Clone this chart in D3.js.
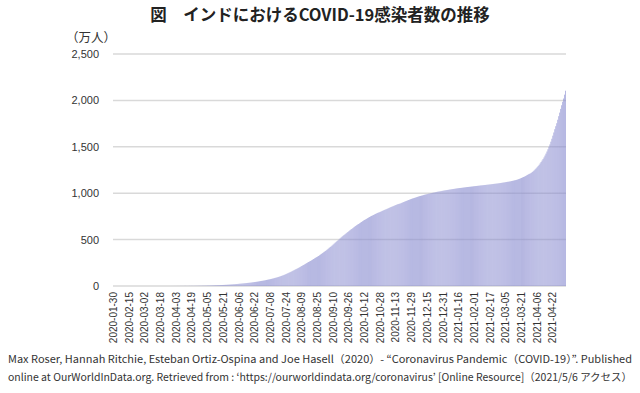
<!DOCTYPE html>
<html>
<head>
<meta charset="utf-8">
<script src="https://cdn.jsdelivr.net/npm/d3@7"></script>
<style>
  body { margin: 0; background: #fff; }
  svg { display: block; font-family: "Noto Sans", "Noto Sans CJK JP", sans-serif; }
  .tick text { fill: #333; }
</style>
</head>
<body>
<svg id="chart"></svg>
<script>
// cumulative confirmed cases in India, unit: 万人, one value per day from 2020-01-30
const cases2020Jan = [0, 0];
const cases2020Feb = [0,0,0,0,0,0,0,0,0,0, 0,0,0,0,0,0,0,0,0,0, 0,0,0,0,0,0,0,0,0];
const cases2020Mar = [0,0,0,0,0,0,0,0,0,0.01, 0.01,0.01,0.01,0.01,0.01,0.01,0.02,0.02,0.02,0.03, 0.04,0.05,0.05,0.07,0.07,0.09,0.10,0.10,0.13,0.14, 0.20];
const cases2020Apr = [0.22,0.25,0.31,0.36,0.42,0.47,0.54,0.59,0.67,0.76, 0.84,0.91,0.99,1.08,1.19,1.27,1.38,1.48,1.58,1.73, 1.86,2.01,2.15,2.31,2.49,2.64,2.79,2.95,3.13,3.40];
const cases2020May = [3.55,3.78,4.03,4.27,4.64,4.94,5.29,5.62,5.97,6.27, 6.70,7.07,7.44,7.83,8.19,8.60,9.09,9.60,10.1,10.6, 11.2,11.8,12.5,13.1,13.9,14.5,15.1,15.8,16.6,17.3, 18.2];
const cases2020Jun = [19.0,19.8,20.7,21.6,22.6,23.6,24.7,25.6,26.6,27.6, 28.7,29.8,30.9,32.1,33.3,34.3,35.4,36.7,38.1,39.6, 41.1,42.6,44.1,45.6,47.3,49.1,50.9,52.9,54.9,56.6];
const cases2020Jul = [58.6,60.5,62.6,64.9,67.3,69.7,71.9,74.2,76.7,79.4, 82.0,84.9,87.9,90.7,93.7,96.8,100.4,103.9,107.8,111.8, 115.5,119.3,123.9,128.8,133.7,138.5,143.6,148.3,153.1,158.4, 164.0];
const cases2020Aug = [169.5,175.1,180.4,185.6,190.8,196.5,202.7,208.8,215.3,221.5, 227.0,233.0,239.7,246.1,252.6,258.9,264.7,270.2,276.7,283.6, 290.5,297.6,304.4,310.6,316.7,323.4,331.0,338.8,346.3,354.2, 362.1];
const cases2020Sep = [369.2,377.0,385.3,393.6,402.3,411.3,420.4,427.9,437.1,446.6, 456.2,465.9,475.4,484.6,493.0,502.0,511.8,521.4,530.8,540.0, 548.7,556.2,564.6,573.2,581.8,590.3,599.3,607.5,614.5,622.5];
const cases2020Oct = [631.3,639.5,647.3,654.9,662.3,668.5,675.7,683.2,690.6,697.9, 705.4,712.0,717.6,723.9,730.8,737.0,743.2,749.5,755.0,759.7, 765.1,770.6,776.1,781.4,786.4,790.9,794.6,798.8,803.6,808.9, 813.7];
const cases2020Nov = [818.4,822.9,826.7,831.4,836.4,841.3,846.2,850.7,855.3,859.1, 863.6,868.3,872.9,877.4,881.4,884.5,887.4,891.0,895.9,900.5, 905.0,909.5,913.9,917.7,922.2,926.7,930.9,935.2,939.2,943.2];
const cases2020Dec = [946.3,949.9,953.4,957.1,960.8,964.4,967.7,970.3,973.6,976.7, 979.7,982.7,985.7,988.4,990.7,993.3,995.6,997.9,1000.5,1003.1, 1005.6,1007.5,1009.9,1012.4,1014.7,1016.9,1018.7,1020.2,1022.4,1024.5, 1026.7];
const cases2021Jan = [1028.6,1030.5,1032.3,1034.0,1035.6,1037.4,1039.5,1041.3,1043.1,1044.7, 1046.0,1047.9,1049.6,1051.3,1052.8,1054.3,1055.7,1056.7,1058.1,1059.6, 1061.0,1062.5,1063.9,1065.4,1066.6,1067.7,1069.0,1070.2,1071.6,1073.0, 1074.6];
const cases2021Feb = [1075.8,1076.8,1077.7,1079.0,1080.2,1081.6,1083.0,1084.4,1085.3,1086.6, 1087.7,1088.6,1089.9,1091.3,1092.5,1093.7,1095.0,1096.1,1097.7,1099.1, 1100.5,1101.6,1102.8,1103.9,1105.6,1107.0,1108.6,1110.1];
const cases2021Mar = [1112.0,1113.9,1115.6,1117.3,1119.2,1121.0,1122.9,1124.4,1126.3,1128.5, 1131.0,1133.3,1135.9,1138.5,1141.0,1143.9,1147.4,1151.4,1155.4,1159.9, 1164.7,1169.6,1174.4,1179.2,1184.6,1190.8,1197.1,1203.5,1208.2,1213.3, 1219.6];
const cases2021Apr = [1228.4,1237.1,1246.9,1257.9,1268.6,1280.3,1293.0,1306.0,1320.6,1335.9, 1352.0,1368.0,1385.5,1405.5,1426.7,1449.2,1473.5,1499.7,1525.5,1555.1, 1586.7,1620.0,1654.6,1689.6,1721.8,1753.9,1791.7,1829.9,1868.4,1908.6];
const cases2021May = [1947.9,1984.7,2020.6,2062.0,2104.2];

const tickLabels = ["2020-01-30","2020-02-15","2020-03-02","2020-03-18","2020-04-03","2020-04-19","2020-05-05","2020-05-21",
  "2020-06-06","2020-06-22","2020-07-08","2020-07-24","2020-08-09","2020-08-25","2020-09-10","2020-09-26","2020-10-12",
  "2020-10-28","2020-11-13","2020-11-29","2020-12-15","2020-12-31","2021-01-16","2021-02-01","2021-02-17","2021-03-05",
  "2021-03-21","2021-04-06","2021-04-22"];
const yTicks = [0, 500, 1000, 1500, 2000, 2500];

const title = "図　インドにおけるCOVID-19感染者数の推移";
const unitLabel = "（万人）";
const sourceLines = [
  "Max Roser, Hannah Ritchie, Esteban Ortiz-Ospina and Joe Hasell（2020）- “Coronavirus Pandemic（COVID-19）”. Published",
  "online at OurWorldInData.org. Retrieved from : ‘https://ourworldindata.org/coronavirus’ [Online Resource]（2021/5/6 アクセス）"
];

const W = 640, H = 393;
const margin = {top: 54, right: 74, bottom: 107, left: 113};
const width = W - margin.left - margin.right;
const height = H - margin.top - margin.bottom;

const values = [].concat(cases2020Jan, cases2020Feb, cases2020Mar, cases2020Apr, cases2020May, cases2020Jun,
  cases2020Jul, cases2020Aug, cases2020Sep, cases2020Oct, cases2020Nov, cases2020Dec,
  cases2021Jan, cases2021Feb, cases2021Mar, cases2021Apr, cases2021May);

const fmtDay = d3.timeFormat("%Y-%m-%d");
const start = new Date(2020, 0, 30);
const data = values.map((v, i) => ({date: fmtDay(d3.timeDay.offset(start, i)), value: v}));

const svgElem = d3.select("#chart").attr("width", W).attr("height", H);

svgElem.append("text")
  .attr("x", W / 2).attr("y", 21)
  .attr("text-anchor", "middle")
  .style("font-family", "'Noto Sans CJK JP', sans-serif")
  .style("font-size", "16.5px")
  .style("font-weight", "bold")
  .attr("fill", "#222")
  .text(title);

svgElem.append("text")
  .attr("x", 66).attr("y", 42)
  .style("font-family", "'Noto Sans CJK JP', sans-serif")
  .style("font-size", "12.5px")
  .attr("fill", "#333")
  .text(unitLabel);

const svg = svgElem.append("g").attr("transform", `translate(${margin.left},${margin.top})`);

const xScale = d3.scaleBand().domain(data.map(d => d.date)).range([0, width]).paddingInner(0.12);
const yScale = d3.scaleLinear().domain([0, 2500]).range([height, 0]);

// grid behind bars
svg.selectAll("line.grid")
  .data(yTicks)
  .enter().append("line")
  .attr("class", "grid")
  .attr("x1", 0).attr("x2", width)
  .attr("y1", d => yScale(d)).attr("y2", d => yScale(d))
  .attr("stroke", "#d9d9d9")
  .attr("stroke-width", 1.5);

svg.selectAll("rect.bar")
  .data(data)
  .enter().append("rect")
  .attr("class", "bar")
  .attr("x", d => xScale(d.date))
  .attr("width", xScale.bandwidth())
  .attr("y", d => yScale(d.value))
  .attr("height", d => height - yScale(d.value))
  .attr("fill", "#8a8ed0")
  .attr("fill-opacity", 0.72);

const yAxis = d3.axisLeft(yScale).tickValues(yTicks).tickFormat(d3.format(",")).tickSize(0).tickPadding(14);
svg.append("g")
  .call(yAxis)
  .call(g => g.select(".domain").remove())
  .style("font-size", "11px");

const xAxis = d3.axisBottom(xScale).tickValues(tickLabels).tickSize(0).tickPadding(0);
svg.append("g")
  .attr("transform", `translate(0,${height})`)
  .call(xAxis)
  .call(g => g.select(".domain").remove())
  .style("font-size", "10px")
  .selectAll("text")
  .attr("transform", "rotate(-90)")
  .attr("text-anchor", "end")
  .attr("x", -6).attr("y", 0)
  .attr("dy", "0.35em");

svgElem.selectAll("text.source")
  .data(sourceLines)
  .enter().append("text")
  .attr("class", "source")
  .attr("x", 8)
  .attr("y", (d, i) => 363 + i * 18)
  .attr("textLength", 624)
  .attr("lengthAdjust", "spacingAndGlyphs")
  .style("font-family", "'Noto Sans CJK JP', sans-serif")
  .style("font-size", "10.5px")
  .attr("fill", "#333")
  .text(d => d);
</script>
</body>
</html>
